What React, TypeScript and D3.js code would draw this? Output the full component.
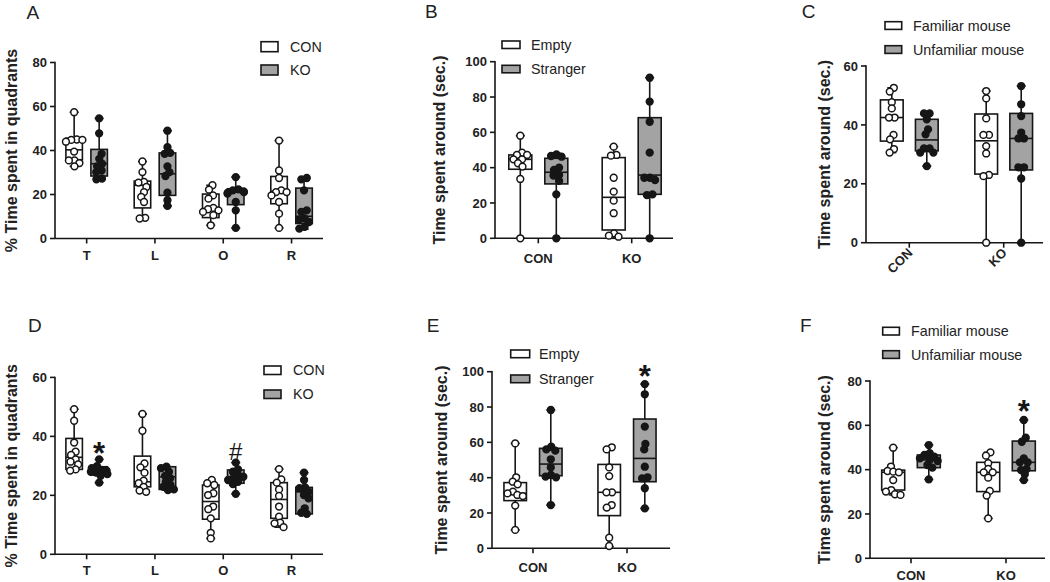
import React from 'react';
import * as d3 from 'd3';

const FONT = '"Liberation Sans", Arial, Helvetica, sans-serif';
const INK = '#161616';
const TXT = '#222222';
const GREY = '#a3a3a3';

type Stats = [number, number, number, number, number]; // min, q1, median, q3, max

// ---------- Panel A ----------
const A_CATS = ['T', 'L', 'O', 'R'];
const A_SERIES = ['CON', 'KO'];
const A_TICKS = [0, 20, 40, 60, 80];
const A_CON_STATS: Stats[] = [[32.8, 35.8, 40.3, 45.6, 57.4], [9.1, 13.9, 24.2, 26.1, 35], [6, 9.5, 13.6, 20.2, 24.2], [4.8, 15.8, 21.4, 28.2, 44.5]];
const A_KO_STATS: Stats[] = [[26.9, 28.4, 34, 40.5, 54.6], [14.8, 19.6, 29.4, 38.9, 49], [4.8, 15.4, 21.1, 22.6, 27.9], [4.2, 6.8, 10.1, 22.9, 27.5]];
const A_CON_POINTS = [
  [57.4, 45, 44.8, 44.8, 44, 39.5, 35.5, 35.5, 34.3, 32.8],
  [35, 30.2, 25.7, 25.4, 23.4, 21.1, 18.9, 16.6, 9.4, 9.1],
  [24.2, 22.2, 19.6, 18.1, 13.9, 13.3, 12.8, 12.1, 10.6, 6],
  [44.5, 30.9, 27.5, 21.9, 21.1, 21.1, 19.6, 16.6, 11.3, 4.8],
];
const A_KO_POINTS = [
  [54.6, 47.8, 38.5, 36.2, 34, 32.8, 30.9, 30.2, 27.2, 26.9],
  [49, 41.5, 38.9, 38.5, 32.8, 30.2, 28.4, 20.8, 17.4, 14.8],
  [27.9, 22.3, 21.9, 21.4, 21.1, 20.8, 20.4, 16.6, 12.8, 4.8],
  [27.5, 26.9, 21.9, 12.8, 12.1, 9.1, 8.6, 7.5, 5.3, 4.5],
];

// ---------- Panel B ----------
const B_CATS = ['CON', 'KO'];
const B_SERIES = ['Empty', 'Stranger'];
const B_TICKS = [0, 20, 40, 60, 80, 100];
const B_EMPTY_STATS: Stats[] = [[0, 39.1, 44.7, 47.2, 58.1], [0, 4.7, 23.2, 45.7, 51.9]];
const B_STRANGER_STATS: Stats[] = [[0, 30.8, 37.4, 45.3, 48.1], [0, 24.9, 35.8, 68.3, 90.9]];
const B_EMPTY_POINTS = [
  [58.1, 48.5, 47.2, 47.2, 44.7, 44.7, 42.5, 40.6, 33.6, 0],
  [51.9, 47.2, 46.8, 34.3, 26.4, 21.3, 14.2, 2.8, 1.5, 0.9],
];
const B_STRANGER_POINTS = [
  [47.5, 46.6, 46.2, 40, 38.7, 35.8, 35.5, 32.5, 24.9, 0],
  [90.9, 77.4, 66, 48.5, 34.3, 34.3, 33, 24.9, 24.5, 0],
];

// ---------- Panel C ----------
const C_CATS = ['CON', 'KO'];
const C_SERIES = ['Familiar mouse', 'Unfamiliar mouse'];
const C_TICKS = [0, 20, 40, 60];
const C_FAM_STATS: Stats[] = [[30.6, 34.5, 42.5, 48.5, 52.6], [0, 23.3, 34.6, 43.7, 51.5]];
const C_UNFAM_STATS: Stats[] = [[26, 31.2, 34.9, 41.9, 43.9], [0, 24.7, 35.4, 43.9, 53.2]];
const C_FAM_POINTS = [
  [52.6, 51.3, 47.7, 45.6, 42.5, 42.5, 36.6, 35.1, 31.8, 30.6],
  [51.5, 49, 42.2, 36.6, 36.6, 32.8, 30.3, 23, 22.6, 0],
];
const C_UNFAM_POINTS = [
  [43.9, 43.9, 41.9, 38.5, 36.8, 32, 32, 30.6, 30.6, 26],
  [53.2, 47, 43, 37.4, 35.4, 35.4, 25.6, 25.6, 21.8, 0],
];

// ---------- Panel D ----------
const D_CATS = ['T', 'L', 'O', 'R'];
const D_SERIES = ['CON', 'KO'];
const D_TICKS = [0, 20, 40, 60];
const D_CON_STATS: Stats[] = [[28.4, 28.8, 32.9, 39.3, 49.2], [21.2, 22.9, 24.6, 33.3, 47.6], [5.4, 11.9, 17.9, 23.5, 25.2], [9.2, 12.2, 18.6, 24.3, 28.9]];
const D_KO_STATS: Stats[] = [[24.3, 26.9, 28, 29.7, 32.2], [21.8, 22, 26.3, 29.7, 29.7], [20.5, 24.1, 26.1, 28.6, 31.1], [13.7, 13.7, 21.2, 22.7, 27.7]];
const D_CON_POINTS = [
  [49.2, 45.3, 37.9, 34.8, 33.7, 32.2, 31.4, 30.5, 28.8, 28.4],
  [47.6, 41.9, 30.8, 29.5, 27.7, 25, 24.1, 22.9, 21.6, 21.2],
  [25.2, 24.1, 23.5, 20.7, 20.1, 16.2, 15.3, 12.2, 7.3, 5.4],
  [28.9, 25.4, 24.3, 22, 19.8, 16.2, 12.8, 10.7, 10.5, 9.2],
];
const D_KO_POINTS = [
  [32.2, 29.9, 29.2, 28.6, 28.4, 28, 27.7, 27.2, 26.6, 24.3],
  [29.7, 29.2, 28, 26.6, 25.8, 24.6, 23.5, 22.9, 22, 21.8],
  [31.1, 28.8, 28, 26.9, 26.3, 25.8, 25.2, 24.6, 23.8, 20.5],
  [27.7, 25.2, 22.7, 22.4, 21.2, 20.1, 19, 15.6, 14.1, 13.7],
];
const D_MARKS = [
  { cat: 'T', series: 1, text: '*', value: 36.5 },
  { cat: 'O', series: 1, text: '#', value: 34.8 },
];

// ---------- Panel E ----------
const E_CATS = ['CON', 'KO'];
const E_SERIES = ['Empty', 'Stranger'];
const E_TICKS = [0, 20, 40, 60, 80, 100];
const E_EMPTY_STATS: Stats[] = [[10.4, 27, 31.1, 37.2, 59.4], [0.9, 18.5, 31.7, 47.5, 57.2]];
const E_STRANGER_STATS: Stats[] = [[24.5, 41.1, 47.7, 56.6, 78.3], [22.6, 37.7, 50.9, 73.2, 93]];
const E_EMPTY_POINTS = [
  [59.4, 40.2, 37.7, 36.2, 32.1, 31.1, 30.2, 29.6, 24.2, 10.4],
  [57.2, 56, 45.8, 40.9, 31.7, 31.7, 24.5, 23, 6, 1.3],
];
const E_STRANGER_POINTS = [
  [78.3, 57.5, 56, 55.3, 50.4, 45.8, 41.5, 40.6, 40.2, 24.5],
  [93, 87.2, 68.9, 59.1, 56, 46.2, 40.2, 39.6, 34, 22.6],
];
const E_MARKS = [{ cat: 'KO', series: 1, text: '*', value: 101 }];

// ---------- Panel F ----------
const F_CATS = ['CON', 'KO'];
const F_SERIES = ['Familiar mouse', 'Unfamiliar mouse'];
const F_TICKS = [0, 20, 40, 60, 80];
const F_FAM_STATS: Stats[] = [[28.6, 30.8, 38.8, 39.8, 49.9], [18, 30.1, 38.8, 43.3, 47.8]];
const F_UNFAM_STATS: Stats[] = [[35.6, 40.9, 44.4, 46.6, 51.1], [35.3, 39.5, 43.3, 52.9, 62.4]];
const F_FAM_POINTS = [
  [49.9, 41.4, 39.4, 39.1, 38.8, 35.3, 30.8, 30.1, 28.9, 28.6],
  [47.8, 46.3, 42.9, 40.3, 38.8, 38.8, 36.4, 30.4, 28.3, 18],
];
const F_UNFAM_POINTS = [
  [51.1, 47.4, 46.6, 45.9, 45.1, 44.4, 43.9, 42.1, 40.9, 35.6],
  [62.4, 54.4, 52.6, 45.1, 43.3, 43.3, 40.3, 39.8, 37.9, 35.3],
];
const F_MARKS = [{ cat: 'KO', series: 1, text: '*', value: 69.2 }];

// ---------- helpers ----------
function swarm(values: number[], y: (v: number) => number, D: number, maxX: number) {
  const sorted = values.slice().sort((a, b) => b - a);
  const placed: { x: number; y: number }[] = [];
  for (const v of sorted) {
    const py = y(v);
    const near = placed.filter((p) => Math.abs(p.y - py) < D);
    const cands = [0];
    for (const p of near) {
      const dx = Math.sqrt(D * D - (p.y - py) * (p.y - py));
      cands.push(p.x - dx, p.x + dx);
    }
    cands.sort((a, b) => Math.abs(a) - Math.abs(b) || a - b);
    let chosen = 0;
    for (const c of cands) {
      if (near.every((p) => (p.x - c) ** 2 + (p.y - py) ** 2 >= D * D - 0.01)) {
        chosen = c;
        break;
      }
    }
    placed.push({ x: chosen, y: py });
  }
  const idx = placed.map((_, i) => i).sort((a, b) => placed[a].y - placed[b].y);
  let cluster: number[] = [];
  const flush = () => {
    if (!cluster.length) return;
    const xs = cluster.map((i) => placed[i].x);
    const mid = (d3.min(xs)! + d3.max(xs)!) / 2;
    cluster.forEach((i) => {
      placed[i].x = Math.max(-maxX, Math.min(maxX, placed[i].x - mid));
    });
    cluster = [];
  };
  for (let k = 0; k < idx.length; k++) {
    if (k > 0 && placed[idx[k]].y - placed[idx[k - 1]].y >= D) flush();
    cluster.push(idx[k]);
  }
  flush();
  return placed;
}

type Cfg = {
  letter: string; letterX: number; letterY: number;
  cats: string[]; seriesNames: string[];
  stats: Stats[][]; points: number[][][];
  ticks: number[]; x0: number; x1: number; yTop: number; yBot: number;
  band: [number, number]; off: number; boxW: number;
  ylabel: string; ylabelX: number;
  xlabelY: number; rotate?: boolean;
  leg: { x: number; y: number[]; w: number; h: number; tx: number };
  marks?: { cat: string; series: number; text: string; value: number }[];
};

const R = 3.4;

function Panel({ c }: { c: Cfg }) {
  const y = d3.scaleLinear().domain([0, c.ticks[c.ticks.length - 1]]).range([c.yBot, c.yTop]);
  const xb = d3.scaleBand().domain(c.cats).range(c.band);
  const center = (cat: string) => (xb(cat) as number) + xb.bandwidth() / 2;
  const sx = (cat: string, si: number) => center(cat) + (si === 0 ? -c.off : c.off);
  const fills = ['#ffffff', GREY];
  const dotFill = ['#ffffff', INK];
  const cap = 9;
  return (
    <g>
      <text x={c.letterX} y={c.letterY} fontSize={19} fill={TXT} fontFamily={FONT}>{c.letter}</text>
      <text transform={`translate(${c.ylabelX},${(c.yTop + c.yBot) / 2}) rotate(-90)`} textAnchor="middle"
        fontSize={16} fontWeight="bold" fill={TXT} fontFamily={FONT}>{c.ylabel}</text>
      <line x1={c.x0} x2={c.x0} y1={c.yTop - 0.75} y2={c.yBot} stroke={INK} strokeWidth={1.6} />
      <line x1={c.x0} x2={c.x1} y1={c.yBot} y2={c.yBot} stroke={INK} strokeWidth={1.6} />
      {c.ticks.map((t) => (
        <g key={t}>
          <line x1={c.x0 - 5} x2={c.x0} y1={y(t)} y2={y(t)} stroke={INK} strokeWidth={1.6} />
          <text x={c.x0 - 8} y={y(t)} dy="0.36em" textAnchor="end" fontSize={13} fontWeight="bold" fill={TXT} fontFamily={FONT}>{t}</text>
        </g>
      ))}
      {c.cats.map((cat) => (
        <g key={cat}>
          <line x1={center(cat)} x2={center(cat)} y1={c.yBot} y2={c.yBot + 5} stroke={INK} strokeWidth={1.6} />
          {c.rotate ? (
            <text transform={`translate(${center(cat) + 4},${c.yBot + 11}) rotate(-45)`} textAnchor="end" fontSize={13} fontWeight="bold" fill={TXT} fontFamily={FONT}>{cat}</text>
          ) : (
            <text x={center(cat)} y={c.xlabelY} textAnchor="middle" fontSize={13} fontWeight="bold" fill={TXT} fontFamily={FONT}>{cat}</text>
          )}
        </g>
      ))}
      {c.cats.map((cat, ci) =>
        c.seriesNames.map((sn, si) => {
          const [mn, q1, md, q3, mx] = c.stats[si][ci];
          const cx = sx(cat, si);
          const hw = c.boxW / 2;
          const pts = swarm(c.points[si][ci], y, 5.6, hw);
          return (
            <g key={cat + sn}>
              <line x1={cx} x2={cx} y1={y(mx)} y2={y(q3)} stroke={INK} strokeWidth={1.6} />
              <line x1={cx} x2={cx} y1={y(q1)} y2={y(mn)} stroke={INK} strokeWidth={1.6} />
              <line x1={cx - cap / 2} x2={cx + cap / 2} y1={y(mx)} y2={y(mx)} stroke={INK} strokeWidth={1.6} />
              <line x1={cx - cap / 2} x2={cx + cap / 2} y1={y(mn)} y2={y(mn)} stroke={INK} strokeWidth={1.6} />
              <rect x={cx - hw} y={y(q3)} width={c.boxW} height={Math.max(0.5, y(q1) - y(q3))} fill={fills[si]} stroke={INK} strokeWidth={1.6} />
              <line x1={cx - hw} x2={cx + hw} y1={y(md)} y2={y(md)} stroke={INK} strokeWidth={1.6} />
              {pts.map((p, k) => (
                <circle key={k} cx={cx + p.x} cy={p.y} r={R} fill={dotFill[si]} stroke={INK} strokeWidth={1.5} />
              ))}
            </g>
          );
        })
      )}
      {c.seriesNames.map((sn, si) => (
        <g key={sn}>
          <rect x={c.leg.x} y={c.leg.y[si]} width={c.leg.w} height={c.leg.h} fill={fills[si]} stroke={INK} strokeWidth={1.6} />
          <text x={c.leg.tx} y={c.leg.y[si] + c.leg.h / 2} dy="0.36em" fontSize={14.3} fill={TXT} fontFamily={FONT}>{sn}</text>
        </g>
      ))}
      {(c.marks || []).map((m, k) => (
        m.text === '*' ? (
          <text key={k} x={sx(m.cat, m.series)} y={y(m.value) + 17} textAnchor="middle" fontSize={31} fontWeight="bold" fill={INK} fontFamily={FONT}>*</text>
        ) : (
          <text key={k} x={sx(m.cat, m.series)} y={y(m.value) + 8.5} textAnchor="middle" fontSize={24} fill={INK} fontFamily={FONT}>{m.text}</text>
        )
      ))}
    </g>
  );
}

const PANELS: Cfg[] = [
  {
    letter: 'A', letterX: 26.5, letterY: 18.5, cats: A_CATS, seriesNames: A_SERIES,
    stats: [A_CON_STATS, A_KO_STATS], points: [A_CON_POINTS, A_KO_POINTS], ticks: A_TICKS,
    x0: 55, x1: 323, yTop: 62.5, yBot: 238.5, band: [52.5, 325.7], off: 12.5, boxW: 16.5,
    ylabel: '% Time spent in quadrants', ylabelX: 17, xlabelY: 260,
    leg: { x: 261, y: [41.7, 65], w: 17, h: 10, tx: 290 },
  },
  {
    letter: 'B', letterX: 425, letterY: 18.3, cats: B_CATS, seriesNames: B_SERIES,
    stats: [B_EMPTY_STATS, B_STRANGER_STATS], points: [B_EMPTY_POINTS, B_STRANGER_POINTS], ticks: B_TICKS,
    x0: 495, x1: 673, yTop: 61.7, yBot: 238.3, band: [491.6, 678.4], off: 18, boxW: 23,
    ylabel: 'Time spent around (sec.)', ylabelX: 445, xlabelY: 263,
    leg: { x: 502, y: [41, 65.3], w: 18, h: 7.5, tx: 531 },
  },
  {
    letter: 'C', letterX: 801.7, letterY: 17.5, cats: C_CATS, seriesNames: C_SERIES,
    stats: [C_FAM_STATS, C_UNFAM_STATS], points: [C_FAM_POINTS, C_UNFAM_POINTS], ticks: C_TICKS,
    x0: 866, x1: 1043, yTop: 66, yBot: 242.7, band: [862.1, 1050.9], off: 17.5, boxW: 22.7,
    ylabel: 'Time spent around (sec.)', ylabelX: 830, xlabelY: 0, rotate: true,
    leg: { x: 885, y: [21.7, 45.7], w: 16.7, h: 7.7, tx: 913 },
  },
  {
    letter: 'D', letterX: 28, letterY: 331.7, cats: D_CATS, seriesNames: D_SERIES,
    stats: [D_CON_STATS, D_KO_STATS], points: [D_CON_POINTS, D_KO_POINTS], ticks: D_TICKS,
    x0: 55, x1: 323, yTop: 377.4, yBot: 554.3, band: [52.5, 325.7], off: 12.5, boxW: 16.5,
    ylabel: '% Time spent in quadrants', ylabelX: 17, xlabelY: 575,
    leg: { x: 264, y: [366, 390], w: 17, h: 8.5, tx: 293 }, marks: D_MARKS,
  },
  {
    letter: 'E', letterX: 426.7, letterY: 331.7, cats: E_CATS, seriesNames: E_SERIES,
    stats: [E_EMPTY_STATS, E_STRANGER_STATS], points: [E_EMPTY_POINTS, E_STRANGER_POINTS], ticks: E_TICKS,
    x0: 492, x1: 670, yTop: 371.7, yBot: 548.3, band: [486, 674], off: 17.8, boxW: 22.5,
    ylabel: 'Time spent around (sec.)', ylabelX: 447, xlabelY: 572,
    leg: { x: 510.7, y: [350, 375], w: 19, h: 7.7, tx: 539 }, marks: E_MARKS,
  },
  {
    letter: 'F', letterX: 800, letterY: 331.7, cats: F_CATS, seriesNames: F_SERIES,
    stats: [F_FAM_STATS, F_UNFAM_STATS], points: [F_FAM_POINTS, F_UNFAM_POINTS], ticks: F_TICKS,
    x0: 870, x1: 1045, yTop: 381, yBot: 558.3, band: [863.5, 1053.5], off: 17.8, boxW: 23,
    ylabel: 'Time spent around (sec.)', ylabelX: 830, xlabelY: 580,
    leg: { x: 882.7, y: [327.3, 350.7], w: 16.7, h: 7.7, tx: 911 }, marks: F_MARKS,
  },
];

export default function App() {
  return (
    <svg width={1050} height={582} style={{ position: 'fixed', left: 0, top: 0, background: '#fff' }}>
      <rect width={1050} height={582} fill="#fff" />
      {PANELS.map((p) => (
        <Panel key={p.letter} c={p} />
      ))}
    </svg>
  );
}
